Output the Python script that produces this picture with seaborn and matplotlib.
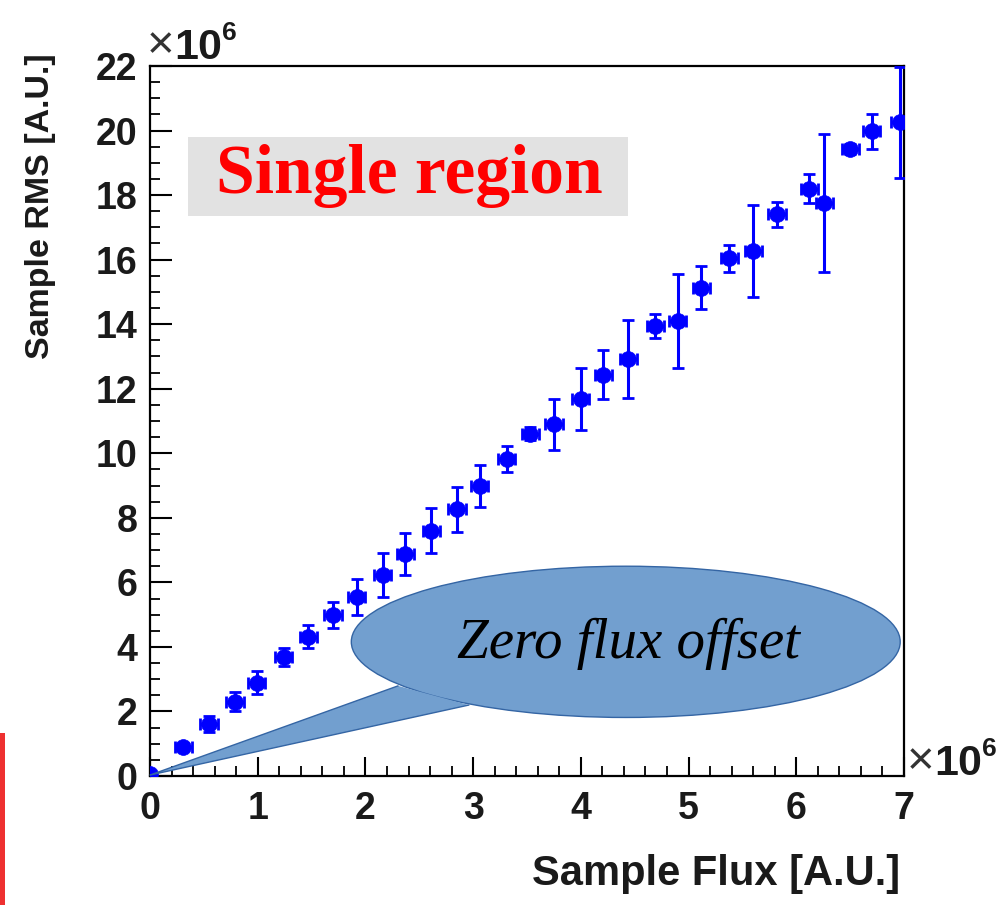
import numpy as np
import pandas as pd
import matplotlib
matplotlib.use("Agg")
import matplotlib.pyplot as plt
import seaborn as sns
from matplotlib.patches import Ellipse, Polygon, Rectangle
from matplotlib.ticker import MultipleLocator

# ---------------- data (units of 1e6) ----------------
flux = [0.0, 0.31, 0.548, 0.79, 0.99, 1.24, 1.47, 1.70, 1.92, 2.16, 2.37,
        2.61, 2.85, 3.06, 3.31, 3.53, 3.75, 4.00, 4.21, 4.44, 4.69, 4.90,
        5.12, 5.38, 5.60, 5.82, 6.12, 6.26, 6.50, 6.70, 6.96]
rms = [0.05, 0.91, 1.61, 2.30, 2.89, 3.68, 4.32, 4.99, 5.56, 6.23, 6.88,
       7.60, 8.26, 8.99, 9.82, 10.60, 10.90, 11.68, 12.43, 12.92, 13.94, 14.10,
       15.13, 16.04, 16.27, 17.41, 18.19, 17.75, 19.43, 19.97, 20.25]
rms_err = [0.0, 0.10, 0.25, 0.30, 0.35, 0.28, 0.35, 0.39, 0.56, 0.67, 0.64,
           0.69, 0.70, 0.65, 0.41, 0.20, 0.79, 0.95, 0.76, 1.21, 0.36, 1.45,
           0.66, 0.42, 1.42, 0.39, 0.45, 2.14, 0.15, 0.55, 1.73]
flux_err = [0.0] + [0.08] * 30

x_ticks = [0, 1, 2, 3, 4, 5, 6, 7]
y_ticks = [0, 2, 4, 6, 8, 10, 12, 14, 16, 18, 20, 22]
title_text = "Single region"
callout_text = "Zero flux offset"
x_label = "Sample Flux [A.U.]"
y_label = "Sample RMS [A.U.]"

df = pd.DataFrame({"flux": flux, "rms": rms})

# ---------------- style ----------------
sns.set_style("ticks")
plt.rcParams["font.family"] = ["Liberation Sans", "DejaVu Sans"]

fig = plt.figure(figsize=(10.06, 9.05), dpi=100)
ax = fig.add_axes([0.1491, 0.1425, 0.7495, 0.7846])

blue = "#0000ff"
ax.errorbar(flux, rms, yerr=rms_err, xerr=flux_err, fmt="none",
            ecolor=blue, elinewidth=2.2, capsize=4, capthick=2.0, zorder=3)
sns.scatterplot(data=df, x="flux", y="rms", ax=ax, color=blue, marker="o",
                s=130, edgecolor=blue, linewidth=0.5, zorder=4, legend=False)

ax.set_xlim(0, 7)
ax.set_ylim(0, 22)
ax.set_xticks(x_ticks)
ax.set_yticks(y_ticks)
ax.set_xticklabels([str(v) for v in x_ticks])
ax.set_yticklabels([str(v) for v in y_ticks])
ax.xaxis.set_minor_locator(MultipleLocator(0.2))
ax.yaxis.set_minor_locator(MultipleLocator(0.5))
ax.tick_params(axis="both", which="both", direction="in", color="black",
               top=False, right=False)
ax.tick_params(axis="x", which="major", length=14, width=1.5, pad=11,
               labelsize=27)
ax.tick_params(axis="y", which="major", length=16, width=1.5, pad=9,
               labelsize=27)
ax.tick_params(axis="both", which="minor", length=7, width=1.3)
for lab in ax.get_xticklabels() + ax.get_yticklabels():
    lab.set_fontweight("bold")
    lab.set_color("#1a1a1a")
for sp in ax.spines.values():
    sp.set_visible(True)
    sp.set_linewidth(1.6)
    sp.set_color("black")
ax.set_xlabel("")
ax.set_ylabel("")

# axis titles (ROOT-like: aligned at the axis end)
ax.text(0.995, -0.110, x_label, transform=ax.transAxes, ha="right", va="top",
        fontsize=30, fontweight="bold", color="#1a1a1a")
ax.text(-0.1446, 1.018, y_label, transform=ax.transAxes, ha="center",
        va="top", rotation=90, fontsize=24.5, fontweight="bold",
        color="#1a1a1a")

# exponent labels
def exponent(xf, yf):
    t1 = ax.text(xf, yf, "\u00d7", transform=ax.transAxes, ha="left",
                 va="baseline", fontsize=34, fontweight="light",
                 color="#333333")
    t2 = ax.annotate("10", xy=(1.0, 0.0), xycoords=t1, xytext=(0, 0),
                     textcoords="offset points", ha="left", va="bottom",
                     fontsize=31, fontweight="bold", color="#1a1a1a")
    ax.annotate("6", xy=(1.0, 1.0), xycoords=t2, xytext=(0, -12),
                textcoords="offset points", ha="left", va="bottom",
                fontsize=19, fontweight="bold", color="#1a1a1a")

exponent(-0.004, 1.011)
exponent(1.003, 0.003)

# "Single region" banner
ax.add_patch(Rectangle((0.050, 0.789), 0.584, 0.111, transform=ax.transAxes,
                       facecolor="#e2e2e2", edgecolor="none", zorder=2))
ax.text(0.344, 0.821, title_text, transform=ax.transAxes, ha="center",
        va="baseline", fontsize=50, fontweight="bold", color="#ff0000",
        family=["Liberation Serif", "DejaVu Serif"], zorder=3)

# callout
fill = "#729fcf"
edge = "#3465a4"
ax.add_patch(Ellipse((0.631, 0.189), 0.728, 0.213, transform=ax.transAxes,
                     facecolor=fill, edgecolor=edge, linewidth=1.0,
                     zorder=6, clip_on=False))
tip = (0.0, 0.0014)
pa = (0.329, 0.127)
pb = (0.423, 0.100)
ax.add_patch(Polygon([tip, pa, pb], closed=True, transform=ax.transAxes,
                     facecolor=fill, edgecolor="none", zorder=7,
                     clip_on=False))
ax.plot([pa[0], tip[0], pb[0]], [pa[1], tip[1], pb[1]], color=edge,
        linewidth=1.0, transform=ax.transAxes, zorder=8, clip_on=False)
ax.text(0.634, 0.166, callout_text, transform=ax.transAxes, ha="center",
        va="baseline", fontsize=41, style="italic", color="black",
        family=["Liberation Serif", "DejaVu Serif"], zorder=9)

# red edge bar at lower left of the slide
fig.patches.append(Rectangle((0, 0), 5 / 1006, 172 / 905,
                             transform=fig.transFigure, facecolor="#ee3030",
                             edgecolor="none", figure=fig))

fig.savefig("out.png", dpi=100)
